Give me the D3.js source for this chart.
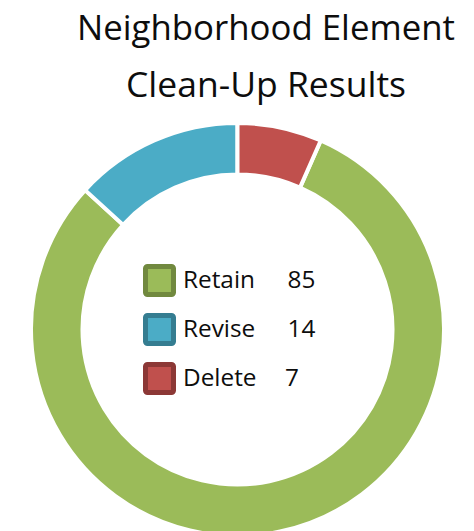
<!DOCTYPE html>
<html>
<head>
<meta charset="utf-8">
<script src="https://cdn.jsdelivr.net/npm/d3@7/dist/d3.min.js"></script>
<style>
  html, body { margin: 0; padding: 0; background: #fff; }
  svg { display: block; }
  text { font-family: "Open Sans", "Liberation Sans", sans-serif; fill: #0d0d0d; }
</style>
</head>
<body>
<svg id="chart" width="474" height="531"></svg>
<script>
// ---- data ----
const titleLines = ["Neighborhood Element", "Clean-Up Results"];
const categories = ["Retain", "Revise", "Delete"];
const values = [85, 14, 7];
const fillColors = ["#9BBB59", "#4BACC6", "#C0504D"];
const borderColors = ["#71893F", "#357D91", "#8C3836"];

// ---- layout ----
const W = 474, H = 531;
const cx = 237.5, cy = 329.5;
const outerR = 206.5, innerR = 155;
const svg = d3.select("#chart");

// title, fitted to measured widths
const titleCx = 266;
const titleBase = [40, 97];
const titleWidths = [378, 280];
titleLines.forEach((t, i) => {
  const el = svg.append("text")
    .attr("x", titleCx).attr("y", titleBase[i])
    .attr("text-anchor", "middle")
    .style("font-size", "34px")
    .text(t);
  const w = el.node().getComputedTextLength();
  el.style("font-size", (34 * titleWidths[i] / w).toFixed(2) + "px");
});

// donut
const total = d3.sum(values);
const lastShare = values[values.length - 1] / total;
const start = 2 * Math.PI * lastShare;
const pie = d3.pie().sort(null).value(d => d)
  .startAngle(start).endAngle(start + 2 * Math.PI);
const arc = d3.arc().innerRadius(innerR).outerRadius(outerR);
const color = d3.scaleOrdinal().domain(categories).range(fillColors);

svg.append("g")
  .attr("transform", `translate(${cx},${cy})`)
  .selectAll("path")
  .data(pie(values))
  .join("path")
  .attr("d", arc)
  .attr("fill", (d, i) => color(categories[i]))
  .attr("stroke", "#fff")
  .attr("stroke-width", 4)
  .attr("stroke-linejoin", "miter");

// legend
const legY = d3.scaleBand().domain(categories).range([264, 411]).paddingInner(0);
const border = d3.scaleOrdinal().domain(categories).range(borderColors);
const leg = svg.append("g");
const sw = 5, sq = 33;

// fit legend font so "Retain" spans ~72px
const probe = leg.append("text").style("font-size", "20px").text(categories[0]);
const legFont = 20 * 72 / probe.node().getComputedTextLength();
probe.remove();

categories.forEach((c, i) => {
  const y0 = legY(c);
  leg.append("rect")
    .attr("x", 143 + sw / 2).attr("y", y0 + sw / 2)
    .attr("width", sq - sw).attr("height", sq - sw)
    .attr("rx", 2)
    .attr("fill", color(c))
    .attr("stroke", border(c))
    .attr("stroke-width", sw);
  leg.append("text")
    .attr("x", 183).attr("y", y0 + 24)
    .style("font-size", legFont.toFixed(2) + "px")
    .text(c);
  leg.append("text")
    .attr("x", i === 2 ? 285 : 287.5).attr("y", y0 + 24)
    .style("font-size", legFont.toFixed(2) + "px")
    .text(values[i]);
});
</script>
</body>
</html>
